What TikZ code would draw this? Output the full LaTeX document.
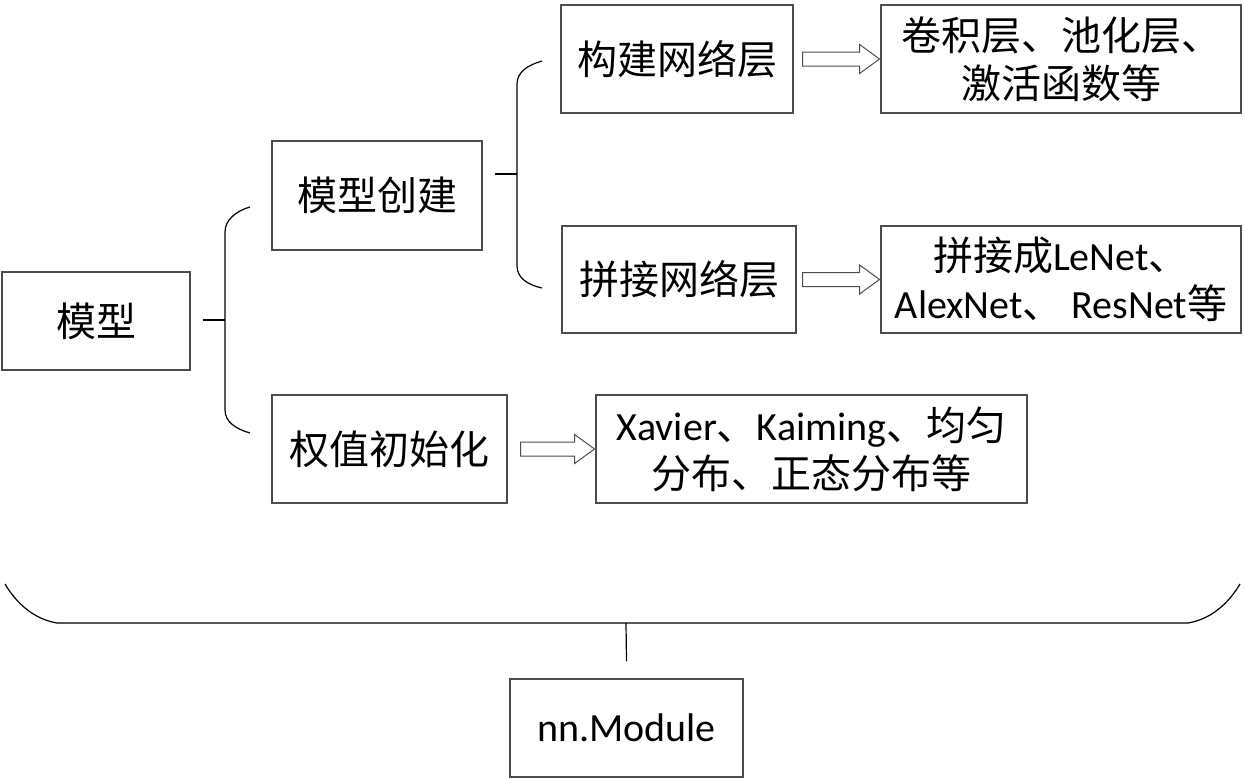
\documentclass[tikz,border=0pt]{standalone}
\usepackage{fontspec}
\setmainfont{Noto Sans CJK SC}
\newfontfamily\lat{Carlito}
\usetikzlibrary{shapes.arrows}

\tikzset{
box/.style={
  rectangle,
  draw=black!70,
  line width=1.2pt,
  align=center,
  inner sep=0pt,
  font=\fontsize{40}{48}\selectfont,
},
hollowarrow/.style={
  single arrow,
  draw=black!70,
  line width=1pt,
  inner sep=6.5pt,
  minimum height=77pt,
  single arrow head extend=7.5pt,
  single arrow tip angle=72,
},
brace/.style={
  line width=1.2pt,
},
}

\begin{document}
\begin{tikzpicture}[x=1pt, y=-1pt]
\useasboundingbox (0,0) rectangle (1245,779);
%left column
\node[box, minimum width=188pt, minimum height=98pt](mx) at (96,321) {模型};
\node[box, minimum width=210pt, minimum height=109pt](cj) at (377,195.5) {模型创建};
\node[box, minimum width=235pt, minimum height=108pt](qz) at (389.5,449) {权值初始化};
%middle column
\node[box, minimum width=232pt, minimum height=108pt](gj) at (677,59) {构建网络层};
\node[box, minimum width=234pt, minimum height=107pt](pj) at (679,279.5) {拼接网络层};
\node[box, minimum width=431pt, minimum height=108pt](xa) at (811.5,449) {{\lat Xavier}、{\lat Kaiming}、均匀\\分布、正态分布等};
%right column
\node[box, minimum width=360pt, minimum height=108pt](jj) at (1061,59) {卷积层、池化层、\\激活函数等};
\node[box, minimum width=360pt, minimum height=107pt](le) at (1061,279.5) {拼接成{\lat LeNet}、\\{\lat AlexNet}、 {\lat ResNet}等};
%bottom
\node[box, minimum width=233pt, minimum height=98pt](nn) at (626.5,728) {\lat nn.Module};

%hollow arrows
\node[hollowarrow, anchor=tip](a1) at (jj.west) {};
\node[hollowarrow, anchor=tip](a2) at (le.west) {};
\node[hollowarrow, anchor=tip, minimum height=74pt](a3) at (xa.west) {};

%braces
\coordinate (b1) at (225,320);
\coordinate (b2) at (517,174);
\coordinate (b3) at (626,623);
\draw[brace] ([xshift=12pt]mx.east |- b1) -- (b1);
\draw[brace] (250,207) .. controls (236,211) and (225,220) .. (225,232) -- (225,410) .. controls (225,422) and (236,429) .. (250,433);
\draw[brace] ([xshift=12pt]cj.east |- b2) -- (b2);
\draw[brace] (542,61) .. controls (528,65) and (517,72) .. (517,84) -- (517,266) .. controls (517,278) and (528,285) .. (542,288);
\draw[brace] (5,584) .. controls (17,604) and (34,619) .. (57,623) -- (1188,623) .. controls (1211,619) and (1228,604) .. (1240,584);
\draw[brace] (b3) -- ([yshift=17pt]nn.north);

\end{tikzpicture}
\end{document}
